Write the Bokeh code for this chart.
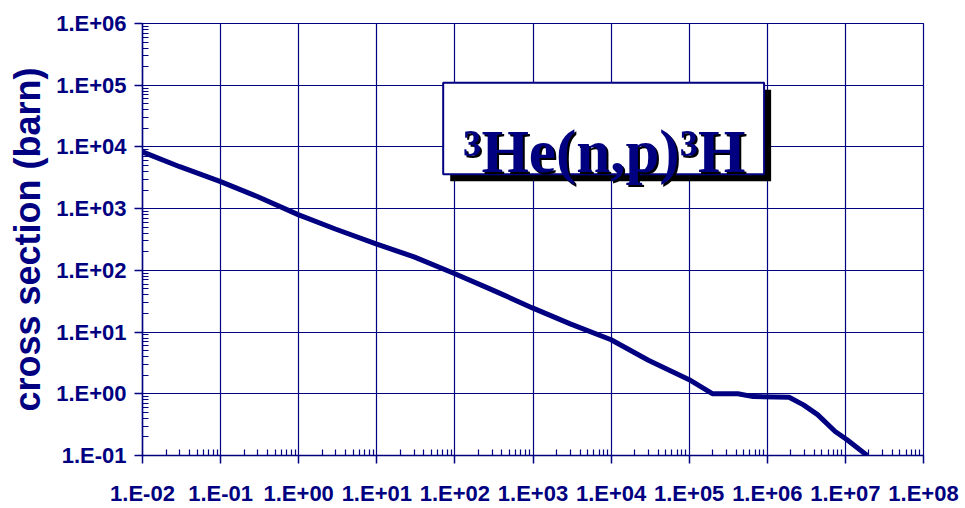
from bokeh.plotting import figure
from bokeh.models import Range1d, FixedTicker, CustomJSTickFormatter, BoxAnnotation, Label
from bokeh.embed import file_html
from bokeh.resources import INLINE

# ---- data (neutron energy in eV, cross section in barn) ----
energy = [0.01, 0.03, 0.1, 0.3, 1, 3, 10, 30, 100, 300, 1e3, 3e3, 1e4, 3e4,
          1e5, 2e5, 4.2e5, 6.6e5, 1.9e6, 2.9e6, 4.4e6, 7.4e6, 1.05e7, 1.9e7]
sigma = [8300, 4780, 2740, 1560, 793, 464, 266, 165, 88, 48.3, 24.4, 13.6, 7.5, 3.5,
         1.69, 1.0, 1.0, 0.90, 0.88, 0.66, 0.46, 0.245, 0.18, 0.1]

x_ticks = [1e-2, 1e-1, 1e0, 1e1, 1e2, 1e3, 1e4, 1e5, 1e6, 1e7, 1e8]
x_tick_labels = ["1.E-02", "1.E-01", "1.E+00", "1.E+01", "1.E+02", "1.E+03",
                 "1.E+04", "1.E+05", "1.E+06", "1.E+07", "1.E+08"]
y_ticks = [1e-1, 1e0, 1e1, 1e2, 1e3, 1e4, 1e5, 1e6]
y_tick_labels = ["1.E-01", "1.E+00", "1.E+01", "1.E+02", "1.E+03", "1.E+04",
                 "1.E+05", "1.E+06"]

y_title = "cross section (barn)"
chart_title = "\u00b3He(n,p)\u00b3H"

NAVY = "#000080"

p = figure(width=960, height=508, x_axis_type="log", y_axis_type="log",
           x_range=Range1d(1e-2, 1e8), y_range=Range1d(1e-1, 1e6),
           output_backend="svg", toolbar_location=None,
           min_border_left=142, min_border_right=37, min_border_top=23, min_border_bottom=52)
p.background_fill_color = "white"
p.border_fill_color = "white"
p.outline_line_color = NAVY
p.outline_line_width = 1.2


def minors(ticks):
    out = []
    for t in ticks[:-1]:
        out += [t * m for m in range(2, 10)]
    return out


p.xaxis.ticker = FixedTicker(ticks=x_ticks, minor_ticks=minors(x_ticks))
p.yaxis.ticker = FixedTicker(ticks=y_ticks, minor_ticks=minors(y_ticks))

fmt_code = """
const i = tv.findIndex(t => Math.abs(Math.log10(t) - Math.log10(tick)) < 1e-6);
return i >= 0 ? lab[i] : "";
"""
p.xaxis.formatter = CustomJSTickFormatter(args=dict(tv=x_ticks, lab=x_tick_labels), code=fmt_code)
p.yaxis.formatter = CustomJSTickFormatter(args=dict(tv=y_ticks, lab=y_tick_labels), code=fmt_code)

for ax in (p.xaxis, p.yaxis):
    ax.axis_line_color = NAVY
    ax.axis_line_width = 1.5
    ax.major_tick_line_color = NAVY
    ax.major_tick_line_width = 1.5
    ax.minor_tick_line_color = NAVY
    ax.minor_tick_line_width = 1.2
    ax.major_tick_out = 8
    ax.major_tick_in = 0
    ax.minor_tick_in = 6
    ax.minor_tick_out = 0
    ax.major_label_text_font = "Liberation Sans"
    ax.major_label_text_font_style = "bold"
    ax.major_label_text_font_size = "22px"
    ax.major_label_text_color = NAVY

p.xaxis.major_label_standoff = 17
p.yaxis.major_label_standoff = 8

p.yaxis.axis_label = y_title
p.yaxis.axis_label_text_font = "Liberation Sans"
p.yaxis.axis_label_text_font_style = "bold"
p.yaxis.axis_label_text_font_size = "36px"
p.yaxis.axis_label_text_color = NAVY
p.yaxis.axis_label_standoff = 5

p.xgrid.grid_line_color = NAVY
p.ygrid.grid_line_color = NAVY
p.xgrid.grid_line_width = 1.2
p.ygrid.grid_line_width = 1.2

p.line(energy, sigma, line_color=NAVY, line_width=5)

# title box with drop shadow
shadow = BoxAnnotation(left=70.8 * 1.23, right=9.1e5 * 1.23, top=1.1e5 / 1.3, bottom=3.6e3 / 1.3,
                       fill_color="black", fill_alpha=1.0, line_color=None)
box = BoxAnnotation(left=70.8, right=9.1e5, top=1.1e5, bottom=3.6e3,
                    fill_color="white", fill_alpha=1.0, line_color=NAVY, line_alpha=1.0, line_width=2)
p.add_layout(shadow)
p.add_layout(box)

title_shadow = Label(x=8170, y=8360, text=chart_title, text_align="center", text_baseline="alphabetic",
                     x_offset=2, y_offset=-2,
                     text_font="Liberation Serif", text_font_style="bold", text_font_size="61px",
                     text_color="black")
title_label = Label(x=8170, y=8360, text=chart_title, text_align="center", text_baseline="alphabetic",
                    text_font="Liberation Serif", text_font_style="bold", text_font_size="61px",
                    text_color=NAVY)
p.add_layout(title_shadow)
p.add_layout(title_label)

open("out.html", "w").write(file_html(p, INLINE))
